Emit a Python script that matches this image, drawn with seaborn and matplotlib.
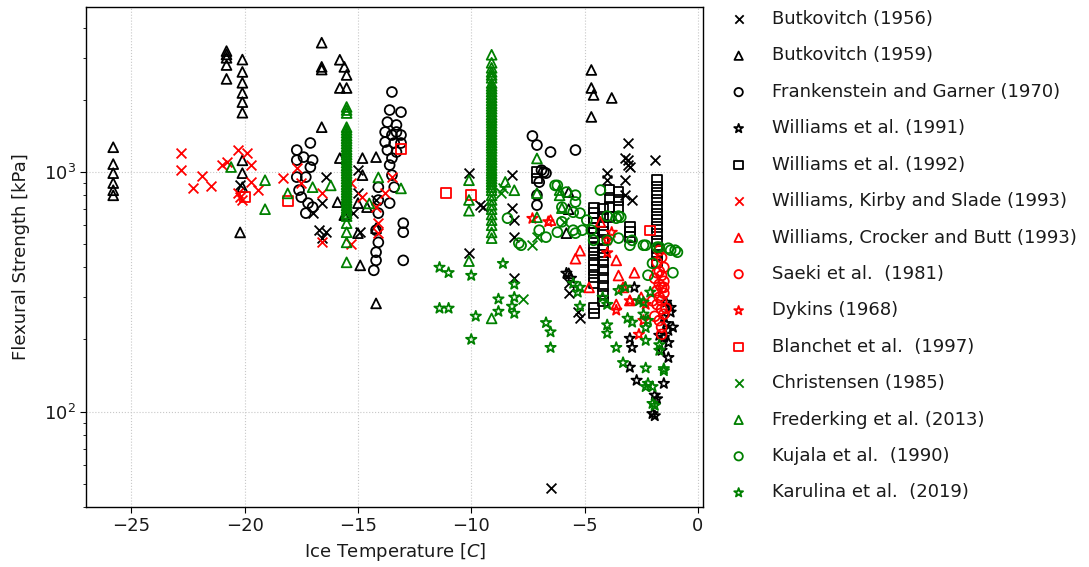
import numpy as np
import pandas as pd
import matplotlib
matplotlib.use("Agg")
import matplotlib.pyplot as plt
import seaborn as sns

# ---------------- data: (ice temperature [C], flexural strength [kPa]) ----------------
butkovitch_1956 = [(-16.4,953),(-16.6,742),(-17.0,674),(-16.7,572),(-16.4,561),(-16.6,530),(-15.0,1019),
    (-15.0,817),(-15.2,674),(-14.9,561),(-14.2,764),(-10.1,990),(-10.1,458),(-9.6,728),(-9.5,714),
    (-8.2,971),(-8.2,707),(-8.1,630),(-8.1,535),(-8.1,360),(-4.0,990),(-3.1,1323),(-3.1,1122),(-3.0,1049),
    (-1.9,1122),(-3.2,801),(-3.2,1144),(-3.1,1070),(-4.0,926),(-3.2,926),(-2.9,764),(-5.7,312),(-5.2,245),
    (-5.3,260),(-5.7,343),(-6.5,48),(-20.2,880)]

butkovitch_1959 = [(-25.8,1270),(-25.8,1080),(-25.8,990),(-25.8,900),(-25.8,840),(-25.8,800),
    (-20.8,3200),(-20.8,3100),(-20.8,3000),(-20.8,2800),(-20.8,2450),(-20.1,2950),(-20.1,2620),(-20.1,2360),
    (-20.1,2140),(-20.1,1960),(-20.1,1770),(-20.1,1120),(-20.1,990),(-20.1,865),(-20.2,560),
    (-16.6,3470),(-16.6,2750),(-16.6,2680),(-15.8,2945),(-15.6,2750),(-15.5,2545),(-15.8,2245),(-15.5,2245),
    (-16.6,1540),(-15.8,1144),(-14.8,1144),(-14.2,1155),(-14.8,971),(-15.9,749),(-15.0,742),(-15.6,661),
    (-15.0,556),(-14.9,408),(-14.2,583),(-14.6,714),(-14.2,283),(-4.7,2670),(-4.7,2245),(-4.6,2100),
    (-3.8,2040),(-4.7,1700),(-5.7,825),(-5.8,556),(-5.7,378),(-5.7,700)]

frankenstein_1970 = [(-17.7,1236),(-17.1,1323),(-17.7,1122),(-17.4,1155),(-17.0,1122),(-17.1,1049),
    (-17.7,953),(-17.3,953),(-17.6,841),(-17.5,786),(-17.2,742),(-17.3,674),(-17.0,714),(-13.5,2160),
    (-13.6,1816),(-13.1,1780),(-13.7,1617),(-13.3,1573),(-13.8,1470),(-13.5,1428),(-13.3,1470),(-13.1,1428),
    (-13.8,1335),(-13.4,1323),(-13.1,1323),(-13.7,1236),(-13.3,1213),(-13.5,1144),(-13.6,1070),(-13.5,971),
    (-14.1,865),(-13.4,865),(-14.1,764),(-13.6,742),(-14.1,674),(-14.2,572),(-14.1,509),(-14.2,463),
    (-14.2,428),(-14.3,389),(-13.0,612),(-13.0,561),(-13.0,428),(-7.3,1415),(-7.1,1297),(-6.5,1213),
    (-5.4,1236),(-6.9,1019),(-6.7,990),(-7.0,908),(-7.1,801),(-7.1,728),(-6.8,1000)]

williams_1991 = [(-5.8,378),(-1.4,286),(-1.2,272),(-1.5,247),(-1.4,233),(-1.3,218),(-1.5,204),(-1.3,194),
    (-3.0,202),(-2.9,185),(-1.3,168),(-3.0,153),(-2.7,135),(-1.5,131),(-1.9,117),(-1.8,113),(-1.9,96),
    (-2.8,330),(-1.7,208),(-1.2,260),(-1.6,180),(-2.0,98),(-5.6,360),(-1.1,225)]

williams_1992 = [(-4.6,707),(-4.6,674),(-4.6,642),(-4.6,612),(-4.6,583),(-4.6,556),(-4.6,530),(-4.6,486),
    (-4.6,458),(-4.6,428),(-4.6,408),(-4.6,389),(-4.6,364),(-4.6,345),(-4.6,270),(-4.6,257),
    (-4.2,700),(-4.2,650),(-4.2,600),(-4.2,560),(-4.2,520),(-4.2,480),(-4.2,450),(-4.2,420),(-4.2,390),
    (-4.2,360),(-4.2,335),(-4.2,310),(-4.2,290),(-3.9,841),(-3.9,780),(-3.9,714),(-3.9,648),
    (-3.5,825),(-3.5,764),(-3.5,714),(-3.0,588),(-3.0,560),(-3.0,535),
    (-1.8,926),(-1.8,870),(-1.8,815),(-1.8,764),(-1.8,714),(-1.8,670),(-1.8,630),(-1.8,590),(-1.8,550),
    (-1.8,515),(-1.8,480),(-1.8,450),(-1.8,420),(-7.1,1000),(-7.1,940)]

williams_kirby_1993 = [(-22.8,1200),(-22.8,1020),(-22.3,860),(-21.9,960),(-21.5,875),(-21.0,1070),
    (-20.8,1101),(-20.3,1240),(-19.9,1200),(-19.7,1070),(-19.7,910),(-19.4,840),(-20.3,815),(-20.1,765),
    (-20.2,790),(-18.3,945),(-17.7,1040),(-17.5,900),(-16.6,817),(-16.6,509),(-13.5,953),(-13.8,817),
    (-14.2,714),(-14.1,612),(-14.1,556),(-14.8,786),(-15.3,500),(-15.3,900)]

williams_crocker_1993 = [(-4.3,620),(-5.2,470),(-5.4,435),(-3.6,428),(-3.5,370),(-2.8,380),(-4.8,330),
    (-3.6,280),(-3.0,291),(-6.5,630),(-3.3,330),(-2.5,300)]

saeki_1981 = [(-1.7,470),(-1.6,440),(-1.8,420),(-1.5,400),(-1.7,385),(-1.6,370),(-1.9,360),(-1.5,350),
    (-1.7,340),(-1.6,330),(-1.8,320),(-1.5,312),(-1.7,300),(-1.6,290),(-1.8,280),(-1.6,268),(-1.5,255),
    (-1.7,240),(-1.6,225),(-2.0,290),(-1.4,270),(-1.9,250),(-1.6,210),(-1.8,380),(-1.5,330)]

dykins_1968 = [(-7.3,640),(-6.6,620),(-3.8,560),(-4.0,520),(-4.0,460),(-3.0,290),(-3.6,265),(-2.4,240),
    (-2.6,210),(-2.3,280),(-3.2,330)]

blanchet_1997 = [(-20.0,790),(-18.1,760),(-13.1,1250),(-11.1,815),(-10.0,800),(-2.1,570)]

christensen_1985 = [(-8.7,815),(-7.1,535),(-7.7,295),(-7.3,495),(-5.9,620),(-8.6,860)]

frederking_col15 = [1870,1816,1765,1540,1500,1460,1420,1385,1350,1315,1280,1245,1215,1185,1155,1125,1095,
    1065,1040,1015,990,965,940,915,890,868,846,825,804,784,764,745,726,708,690,672,655,612,561,509,420]
frederking_col9 = [3090,2860,2725,2620,2545,2475,2355,2290,2230,2170,2110,2050,1995,1940,1890,1840,1790,
    1740,1695,1650,1605,1560,1520,1480,1440,1400,1365,1330,1295,1260,1225,1190,1160,1130,1100,1070,1040,
    1015,990,965,940,915,890,865,840,800,765,730,700,665,630,600,560,530]
frederking_other = [(-20.6,1050),(-19.1,925),(-19.1,700),(-18.1,815),(-17.0,865),(-16.2,880),(-14.1,950),
    (-13.1,855),(-14.5,740),(-10.1,925),(-10.1,765),(-10.1,690),(-10.1,425),(-8.5,910),(-8.1,840),
    (-7.1,1140),(-7.1,817),(-6.1,841),(-6.1,800),(-6.0,707),(-7.1,648),(-9.1,245)]

kujala_1990 = [(-6.2,880),(-5.8,825),(-5.4,801),(-6.0,714),(-5.5,680),(-5.2,674),(-8.4,642),(-7.8,495),
    (-7.0,572),(-6.7,535),(-6.2,561),(-5.4,556),(-4.9,630),(-4.3,841),(-3.6,642),(-3.4,648),(-2.9,519),
    (-2.3,495),(-1.8,486),(-1.2,472),(-0.9,463),(-4.7,572),(-4.0,519),(-5.4,750),(-5.5,572),(-5.1,572),
    (-4.0,655),(-3.5,655),(-4.6,519),(-3.5,530),(-3.0,495),(-2.4,495),(-1.7,486),(-1.3,481),(-1.0,472),
    (-1.1,380),(-2.2,371),(-7.9,505),(-6.3,880),(-6.0,620),(-2.0,416)]

karulina_2019 = [(-11.4,400),(-11.0,380),(-11.4,270),(-11.0,270),(-10.0,370),(-9.8,250),(-10.0,200),
    (-8.6,415),(-8.8,295),(-8.1,340),(-8.1,300),(-8.2,275),(-8.1,257),(-8.8,262),(-6.7,235),(-6.5,215),
    (-6.5,185),(-5.2,275),(-5.5,343),(-5.2,330),(-5.3,315),(-4.0,280),(-4.0,230),(-4.0,212),(-3.6,185),
    (-3.3,160),(-3.1,245),(-2.9,236),(-2.4,286),(-2.4,255),(-2.3,224),(-2.3,198),(-2.3,152),(-2.3,127),
    (-2.0,127),(-1.5,148),(-2.0,108),(-1.7,180),(-2.1,315),(-3.2,330),(-1.5,151),(-2.2,131),(-1.9,106),
    (-3.5,320),(-2.6,290),(-2.2,240),(-1.7,190),(-4.2,300)]

frederking_2013 = ([(-15.5, s) for s in frederking_col15] + [(-9.1, s) for s in frederking_col9]
                   + frederking_other)

series = [
    ("Butkovitch (1956)", butkovitch_1956, "x", "k"),
    ("Butkovitch (1959)", butkovitch_1959, "^", "k"),
    ("Frankenstein and Garner (1970)", frankenstein_1970, "o", "k"),
    ("Williams et al. (1991)", williams_1991, "*", "k"),
    ("Williams et al. (1992)", williams_1992, "s", "k"),
    ("Williams, Kirby and Slade (1993)", williams_kirby_1993, "x", "r"),
    ("Williams, Crocker and Butt (1993)", williams_crocker_1993, "^", "r"),
    ("Saeki et al.  (1981)", saeki_1981, "o", "r"),
    ("Dykins (1968)", dykins_1968, "*", "r"),
    ("Blanchet et al.  (1997)", blanchet_1997, "s", "r"),
    ("Christensen (1985)", christensen_1985, "x", "g"),
    ("Frederking et al. (2013)", frederking_2013, "^", "g"),
    ("Kujala et al.  (1990)", kujala_1990, "o", "g"),
    ("Karulina et al.  (2019)", karulina_2019, "*", "g"),
]

# ---------------- style ----------------
sns.set_style("ticks")
plt.rcParams["font.family"] = ["DejaVu Sans"]
plt.rcParams["mathtext.fontset"] = "dejavusans"
FS = 13
plt.rcParams["font.size"] = FS
plt.rcParams["text.color"] = "#1a1a1a"
plt.rcParams["axes.labelcolor"] = "#1a1a1a"

fig = plt.figure(figsize=(10.89, 5.67), dpi=100)
ax = fig.add_axes([0.079, 0.106, 0.567, 0.882])

for label, pts, marker, color in series:
    df = pd.DataFrame(pts, columns=["T", "S"])
    size = 62 if marker == "*" else 50
    if marker == "x":
        sns.scatterplot(data=df, x="T", y="S", marker="x", color=color, s=size,
                        linewidth=1.3, label=label, ax=ax)
    else:
        sns.scatterplot(data=df, x="T", y="S", marker=marker, facecolor="none",
                        edgecolor=color, color=color, s=size, linewidth=1.3,
                        label=label, ax=ax)

ax.set_yscale("log")
ax.set_xlim(-27.0, 0.25)
ax.set_ylim(40, 4900)
ax.set_xticks([-25, -20, -15, -10, -5, 0])
ax.grid(True, which="major", linestyle=":", color="#c8c8c8", linewidth=0.8)
ax.set_axisbelow(True)
for sp in ax.spines.values():
    sp.set_visible(True)
    sp.set_color("black")
    sp.set_linewidth(1.0)
ax.tick_params(axis="both", which="major", direction="out", length=4, labelsize=FS,
               colors="black", labelcolor="#1a1a1a")
ax.tick_params(axis="y", which="minor", direction="out", length=2.5, colors="black")
ax.set_xlabel("Ice Temperature [$C$]", fontsize=FS)
ax.set_ylabel("Flexural Strength [kPa]", fontsize=FS, labelpad=10)

leg = ax.legend(loc="upper left", bbox_to_anchor=(1.016, 1.008), frameon=False,
                fontsize=FS, labelspacing=1.02, handletextpad=0.82, borderaxespad=0.0,
                markerscale=0.85)

fig.savefig("out.png", dpi=100)
